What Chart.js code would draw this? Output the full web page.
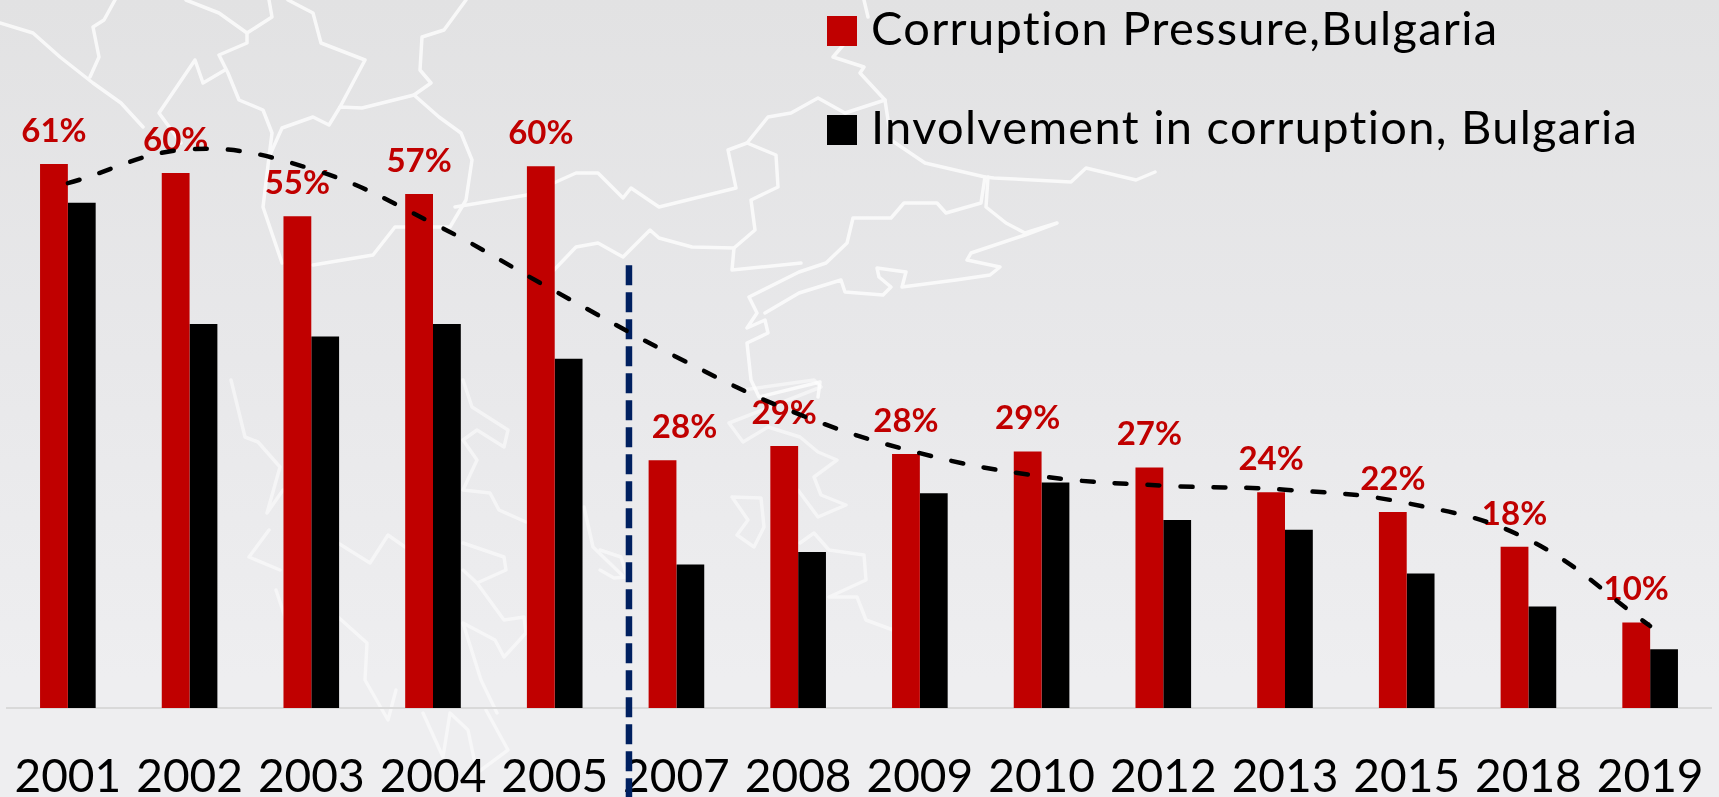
<!DOCTYPE html>
<html>
<head>
<meta charset="utf-8">
<script src="https://cdn.jsdelivr.net/npm/chart.js@4"></script>
<style>
  html, body { margin: 0; padding: 0; overflow: hidden; }
  #page { position: relative; width: 1719px; height: 797px; background: linear-gradient(#e2e2e3, #e8e8ea 45%, #eeeef0 85%); }
  #map, #wrap { position: absolute; left: 0; top: 0; width: 1719px; height: 797px; }
  #map { filter: blur(0.5px); }
  #map polyline { fill: none; stroke: #fff; stroke-width: 3.5; stroke-linejoin: round; stroke-linecap: round; }
  .legend-row { position: absolute; left: 827px; height: 30px; font: 47px Lato, sans-serif; color: #000; white-space: nowrap; }
  .legend-row i { position: absolute; left: 0; top: 0; width: 30px; height: 30px; }
  .legend-row span { position: absolute; left: 44px; bottom: -5px; line-height: 47px; letter-spacing: 1.3px; }
</style>
</head>
<body>
<div id="page">
  <svg id="map" viewBox="0 0 1719 797">
    <g opacity="0.75">
      <polyline points="115,0 104,20 93,27 99,57 90,77"/>
      <polyline points="0,23 33,33 60,57 93,83 121,103 143,127"/>
      <polyline points="186,0 219,13 247,33 247,43 219,55 228,73 239,100 263,110 272,133 269,157 263,207 282,263"/>
      <polyline points="269,0 272,17 247,33"/>
      <polyline points="225,70 203,83 195,60 159,113 181,143"/>
      <polyline points="288,0 313,13 321,43 365,60 340,107"/>
      <polyline points="466,0 444,30 422,37 420,70 431,83 414,95 362,108 340,107 329,125 313,117 282,128 269,157"/>
      <polyline points="414,95 439,117 461,133 472,160 466,200 450,227 395,227 373,255 313,265"/>
      <polyline points="455,207 527,195 576,173 598,173 623,198 631,188 659,207 736,188 728,150 747,143 768,117 791,113 818,98 845,113 885,100 860,73 864,67 833,57 845,43"/>
      <polyline points="864,0 868,17"/>
      <polyline points="885,100 891,140 925,163 985,177 994,178 1071,182 1086,168 1136,180 1155,172"/>
      <polyline points="985,177 981,203 946,213 937,203 904,203 891,218 853,218 847,243 826,263 799,272 749,297 757,313 747,328 765,320 768,333 747,343 751,380 759,397 820,382 818,397"/>
      <polyline points="988,177 986,207 1006,223 1025,233 1057,223 1025,235 971,253 967,260 1000,267 990,275 956,280 902,287 906,272 877,268 879,277 891,287 883,295 845,292 841,280 799,293 765,313"/>
      <polyline points="554,270 576,247 598,243 623,257 650,230 659,238 692,247 734,248 732,270 801,263"/>
      <polyline points="734,248 755,230 751,200 778,187 776,155 747,143"/>
    </g>
    <g opacity="0.5">
      <polyline points="743,390 814,380 821,387 729,423 743,442 768,427 800,437 818,452 837,460 814,477 821,495 846,505 818,517 798,490"/>
      <polyline points="732,497 761,498 764,527 754,547 737,535 748,520 732,497"/>
      <polyline points="800,543 814,533 829,550 864,555 866,580 829,597 857,597 866,620 893,630"/>
      <polyline points="600,550 621,557 627,577 614,578 600,570"/>
      <polyline points="463,380 472,407 508,430 504,447 477,430 463,440 477,460 463,490 490,493 499,510 526,522"/>
      <polyline points="584,507 593,547 624,577"/>
      <polyline points="231,380 245,437 258,442 280,467 267,513 283,490"/>
      <polyline points="338,543 370,563 388,535 405,547"/>
      <polyline points="269,530 249,557 280,570"/>
      <polyline points="463,543 504,557 506,570 477,583 463,570"/>
      <polyline points="477,583 504,620 524,617 526,633 504,657 495,640 463,623 481,680 497,713"/>
      <polyline points="338,617 367,643 365,680 388,720 396,690"/>
      <polyline points="276,590 285,617"/>
      <polyline points="423,713 443,757 450,713 468,730 477,773 508,750 486,710"/>
    </g>
  </svg>
  <div id="wrap"><canvas id="chart"></canvas></div>
  <div id="legend"></div>
</div>
<script>
var years = ["2001","2002","2003","2004","2005","2007","2008","2009","2010","2012","2013","2015","2018","2019"]
var pressure = [61.05,60.05,55.2,57.7,60.8,27.8,29.4,28.5,28.8,27.0,24.2,22.0,18.1,9.6]
var involvement = [56.7,43.1,41.7,43.1,39.2,16.1,17.5,24.1,25.3,21.1,20.0,15.1,11.4,6.6]
var trend = [58.9,62.7,60.5,54.4,46.8,39.4,33.0,28.6,26.0,24.95,24.5,23.0,18.9,9.2]
var pressureLabels = ["61%","60%","55%","57%","60%","28%","29%","28%","29%","27%","24%","22%","18%","10%"]
var seriesNames = ["Corruption Pressure,Bulgaria","Involvement in corruption, Bulgaria"]
var seriesColors = ["#C00000","#000000"]

// EU accession marker sits between 2005 and 2007
var splitIndex = 4.61
var splitTop = 49.7

var legendTops = [16, 115]
seriesNames.forEach(function(name, i) {
  var row = document.createElement('div')
  row.className = 'legend-row'
  row.style.top = legendTops[i] + 'px'
  row.innerHTML = '<i style="background:' + seriesColors[i] + '"></i><span>' + name + '</span>'
  document.querySelector('#legend').appendChild(row)
})

var underLayer = {
  id: 'underLayer',
  beforeDatasetsDraw: function(chart) {
    var ctx = chart.ctx
    var x = chart.scales.x.getPixelForValue(splitIndex)
    var yTop = chart.scales.y.getPixelForValue(splitTop)
    ctx.save()
    ctx.strokeStyle = '#002060'
    ctx.lineWidth = 6.5
    ctx.setLineDash([20, 7])
    ctx.beginPath()
    ctx.moveTo(x, yTop)
    ctx.lineTo(x, chart.height)
    ctx.stroke()
    ctx.restore()

    // value labels go under the trend line, as in the slide
    var bars = chart.getDatasetMeta(1).data
    ctx.save()
    ctx.fillStyle = '#C00000'
    ctx.font = 'bold 33px Lato, sans-serif'
    ctx.textAlign = 'center'
    ctx.textBaseline = 'alphabetic'
    bars.forEach(function(bar, i) {
      // 2007 label is pushed right, clear of the marker line
      var nudge = years[i] == "2007" ? 22 : 0
      ctx.fillText(pressureLabels[i], bar.x + nudge, bar.y - 22)
    })
    ctx.restore()
  }
}

new Chart("chart", {
  type: "bar",
  data: {
    labels: years,
    datasets: [
      {
        type: "line",
        label: "Trend",
        data: trend,
        borderColor: "#000",
        borderWidth: 4.5,
        borderDash: [12, 21],
        borderCapStyle: "round",
        tension: 0.4,
        pointRadius: 0,
        fill: false,
        order: 0,
      },
      {
        label: seriesNames[0],
        backgroundColor: seriesColors[0],
        data: pressure,
        categoryPercentage: 0.457,
        barPercentage: 1,
        order: 1,
      },
      {
        label: seriesNames[1],
        backgroundColor: seriesColors[1],
        data: involvement,
        categoryPercentage: 0.457,
        barPercentage: 1,
        order: 1,
      },
    ],
  },
  options: {
    responsive: true,
    maintainAspectRatio: false,
    animation: false,
    plugins: {
      legend: false,
      tooltip: { enabled: false },
    },
    layout: {
      padding: { left: 7, right: 8, top: 0, bottom: 0 },
    },
    scales: {
      y: {
        display: false,
        min: 0,
        max: 79.46,
      },
      x: {
        grid: { drawOnChartArea: false, drawTicks: true, tickLength: 49, tickColor: "transparent" },
        border: { color: "#d9d9d9", width: 2 },
        ticks: {
          color: "#000",
          font: { family: "Lato, sans-serif", size: 46, lineHeight: "40px" },
          padding: 0,
          autoSkip: false,
          maxRotation: 0,
        },
      },
    },
  },
  plugins: [underLayer],
});
</script>
</body>
</html>
